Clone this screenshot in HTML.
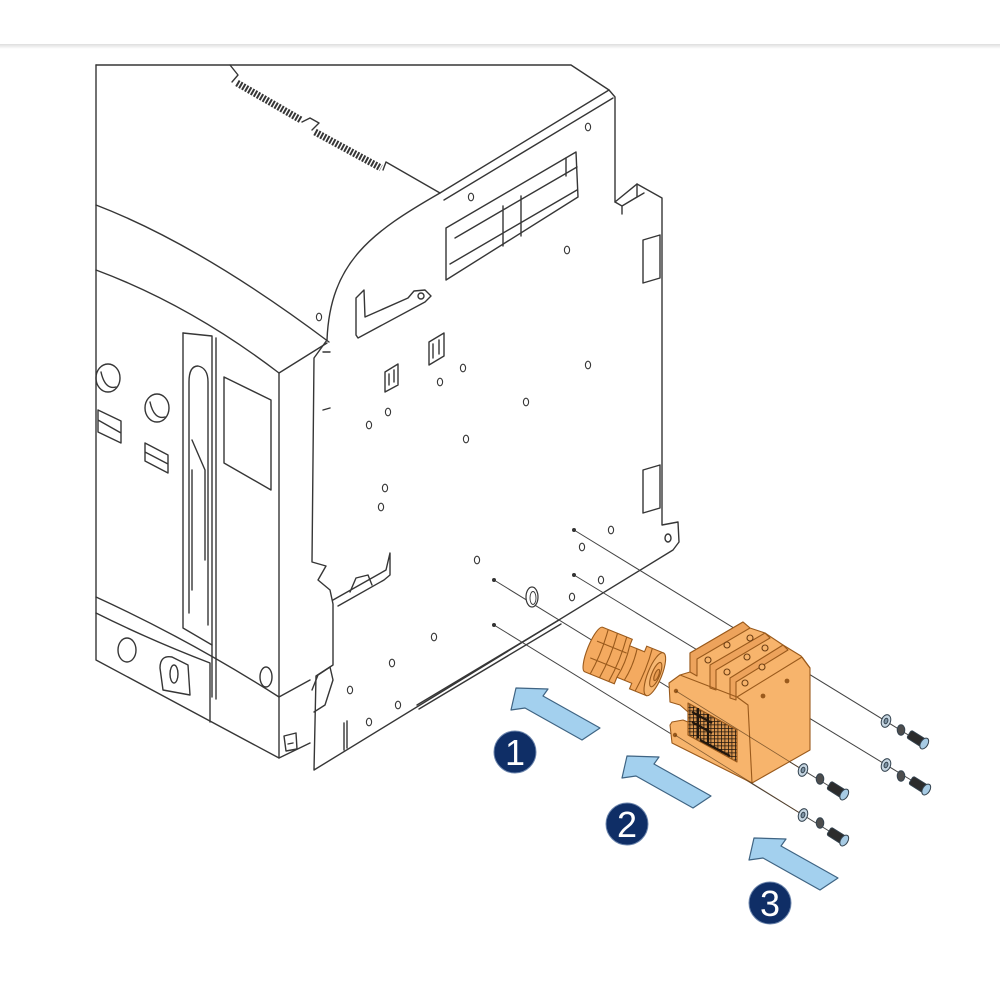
<!DOCTYPE html>
<html><head><meta charset="utf-8"><style>
html,body{margin:0;padding:0;background:#fff;}
svg{display:block;}
</style></head><body>
<svg width="1000" height="1000" viewBox="0 0 1000 1000" xmlns="http://www.w3.org/2000/svg">
<defs>
<linearGradient id="hd" x1="0" y1="0" x2="0" y2="1">
<stop offset="0" stop-color="#dedede"/><stop offset="1" stop-color="#ffffff"/>
</linearGradient>
<pattern id="grd" width="3.5" height="3.5" patternUnits="userSpaceOnUse">
<rect width="3.5" height="3.5" fill="#d99650"/>
<path d="M0,0 L3.5,0 M0,0 L0,3.5" stroke="#22170d" stroke-width="1.6"/>
</pattern>
</defs>
<rect width="1000" height="1000" fill="#fff"/>
<rect x="0" y="44" width="1000" height="5" fill="url(#hd)"/>

<!-- main line drawing -->
<g fill="none" stroke="#363636" stroke-width="1.4" stroke-linejoin="round" stroke-linecap="round">
<!-- box -->
<path d="M96,65 L571,65 L609,90"/>
<path d="M96,65 L96,660 L279,758 L310,743"/>
<path d="M96,205 Q200,245 329,342"/>
<path d="M96,270 Q190,305 279,373 L327,343"/>
<path d="M279,373 L279,758"/>
<path d="M183,333 L183,628 L212,645"/>
<path d="M183,333 L212,336 L212,697"/>
<path d="M216,338 L216,699"/>
<path d="M189,613 L189,382 Q189,366 198,366 Q208,368 208,382 L208,625"/>
<path d="M192,440 L205,470 L205,560 M192,470 L192,590"/>
<path d="M224,377 L271,400 L271,490 L224,463 Z"/>
<ellipse cx="108" cy="378" rx="12" ry="14"/>
<path d="M101,372 Q105,390 116,387"/>
<ellipse cx="157" cy="408" rx="12" ry="14"/>
<path d="M150,402 Q154,420 165,417"/>
<path d="M98,410 L121,421 L121,443 L98,432 Z M98,420 L121,433"/>
<path d="M145,443 L168,455 L168,473 L145,461 Z M145,452 L168,464"/>
<path d="M96,597 Q190,640 279,697 L310,680"/>
<path d="M96,613 Q150,640 210,663 L210,722"/>
<ellipse cx="127" cy="650" rx="9" ry="12"/>
<path d="M160,668 Q160,655 172,657 L188,665 L190,695 L163,690 Z"/>
<ellipse cx="174" cy="674" rx="4" ry="9"/>
<ellipse cx="266" cy="677" rx="6" ry="10"/>
<path d="M284,736 L296,733 L297,749 L286,751 Z M288,744 L293,743"/>
<!-- vents -->
<path d="M230,65 L238,75 L232,82"/>
<line x1="237" y1="83" x2="301" y2="120" stroke-width="7" stroke-dasharray="2 1.4" stroke-linecap="butt"/>
<path d="M302,122 L310,118 L319,123 L312,130"/>
<line x1="315" y1="132" x2="381" y2="168" stroke-width="7" stroke-dasharray="2 1.4" stroke-linecap="butt"/>
<path d="M383,170 L386,162 L440,193"/>
<!-- plate -->
<path d="M609,90 L440,193 C372,232 330,262 327,340 L314,358 L312,562 L326,566 L318,580 L330,590 L333,604 L333,665 L316,676 L314,770 L673,550 L679,542 L678,522 L662,525 L662,198 L637,184 L615,202 L615,97 Z"/>
<path d="M613,98 L444,200"/>
<path d="M615,202 L622,206 L644,193 M637,184 L637,197 L622,206 M622,206 L622,214"/>
<path d="M643,240 L660,235 L660,278 L643,283 Z"/>
<path d="M643,470 L660,465 L660,508 L643,513 Z"/>
<ellipse cx="668" cy="538" rx="3" ry="4"/>
<path d="M446,228 L576,152 L578,197 L446,280 Z"/>
<path d="M450,264 L577,190 M455,238 L503,210 L577,167 M503,206 L503,246 M521,196 L521,236 M566,158 L566,176"/>
<path d="M356,335 L356,298 L364,290 L365,317 L408,298 L414,291 L425,290 L431,296 L425,302 L358,338 Z"/>
<ellipse cx="421" cy="296" rx="3" ry="3"/>
<path d="M385,392 L385,372 L398,364 L398,385 Z M389,385 L389,374 M394,382 L394,370"/>
<path d="M429,365 L429,342 L444,333 L444,356 Z M433,358 L433,344 M439,354 L439,340"/>
<path d="M333,600 L386,570 L390,553 L390,575 L384,580 L338,606"/>
<path d="M350,592 L356,578 L368,575 L372,585"/>
<path d="M312,690 L318,675 L330,667 L333,680 L325,705 L314,712"/>
<path d="M417,705 L559,620 M419,709 L561,624"/>
<path d="M344,723 L344,750 M347,721 L347,748"/>
<path d="M323,352 L330,352 M323,410 L330,408"/>
</g>

<!-- holes -->
<g fill="none" stroke="#363636" stroke-width="1.1">
<ellipse cx="588" cy="127" rx="2.6" ry="3.8"/>
<ellipse cx="471" cy="197" rx="2.6" ry="3.8"/>
<ellipse cx="567" cy="250" rx="2.6" ry="3.8"/>
<ellipse cx="319" cy="317" rx="2.6" ry="3.8"/>
<ellipse cx="463" cy="368" rx="2.6" ry="3.8"/>
<ellipse cx="440" cy="382" rx="2.6" ry="3.8"/>
<ellipse cx="588" cy="365" rx="2.6" ry="3.8"/>
<ellipse cx="526" cy="402" rx="2.6" ry="3.8"/>
<ellipse cx="388" cy="412" rx="2.6" ry="3.8"/>
<ellipse cx="369" cy="425" rx="2.6" ry="3.8"/>
<ellipse cx="466" cy="439" rx="2.6" ry="3.8"/>
<ellipse cx="385" cy="488" rx="2.6" ry="3.8"/>
<ellipse cx="381" cy="507" rx="2.6" ry="3.8"/>
<ellipse cx="477" cy="560" rx="2.6" ry="3.8"/>
<ellipse cx="611" cy="530" rx="2.6" ry="3.8"/>
<ellipse cx="582" cy="547" rx="2.6" ry="3.8"/>
<ellipse cx="601" cy="580" rx="2.6" ry="3.8"/>
<ellipse cx="572" cy="597" rx="2.6" ry="3.8"/>
<ellipse cx="434" cy="637" rx="2.6" ry="3.8"/>
<ellipse cx="392" cy="663" rx="2.6" ry="3.8"/>
<ellipse cx="350" cy="690" rx="2.6" ry="3.8"/>
<ellipse cx="398" cy="705" rx="2.6" ry="3.8"/>
<ellipse cx="369" cy="722" rx="2.6" ry="3.8"/>
</g>

<!-- construction lines -->
<g stroke="#444" stroke-width="1" fill="none">
<path d="M574,530 L910,736"/>
<path d="M574,575 L911,780"/>
<path d="M494,580 L829,786"/>
<path d="M494,625 L829,831"/>
</g>
<g fill="#333">
<circle cx="574" cy="530" r="2"/>
<circle cx="574" cy="575" r="2"/>
<circle cx="494" cy="580" r="2"/>
<circle cx="494" cy="625" r="2"/>
</g>
<ellipse cx="532" cy="597" rx="6" ry="10" fill="#fff" stroke="#363636" stroke-width="1.2"/>
<ellipse cx="533" cy="598" rx="3" ry="6.5" fill="none" stroke="#363636" stroke-width="0.9"/>

<!-- orange block -->
<g stroke="#9a5a1c" stroke-width="1.1" stroke-linejoin="round">
<polygon fill="#f7b46c" points="669,683 680,675 690,672 690,653 743,622 750,628 765,633 783,645 801,656 810,668 810,750 752,783 690,752 680,747 672,743 670,725 672,722 683,720 688,722 688,712 680,705 670,702"/>
<polygon fill="#eda35c" points="690,653 743,622 750,628 697,659 697,676 690,672"/>
<polygon fill="#eda35c" points="710,665 765,633 770,638 716,670 716,690 710,688"/>
<polygon fill="#eda35c" points="730,678 783,645 788,650 736,682 736,700 730,698"/>
<path fill="none" d="M680,675 L737,697 L802,657 M737,697 L748,705 L752,783 M802,657 L810,668"/>
<polygon fill="url(#grd)" points="688,703 737,730 737,762 688,735"/>
<path fill="none" stroke="#22170d" stroke-width="2.2" d="M692,712 L712,723 M692,722 L712,733 M700,740 L730,756 M698,708 L698,738 M708,714 L708,744"/>
<g fill="#f7b46c" stroke="#6e3f14">
<circle cx="727" cy="645" r="3"/>
<circle cx="747" cy="657" r="3"/>
<circle cx="765" cy="648" r="3"/>
<circle cx="708" cy="660" r="3"/>
<circle cx="727" cy="672" r="3"/>
<circle cx="745" cy="683" r="3"/>
<circle cx="762" cy="667" r="3"/>
<circle cx="750" cy="638" r="3"/>
</g>
<g fill="#9a5a1c" stroke="none">
<circle cx="763" cy="696" r="2.4"/>
<circle cx="787" cy="681" r="2.4"/>
<circle cx="676" cy="691" r="2.2"/>
<circle cx="675" cy="735" r="2.2"/>
</g>
</g>
<path d="M676,691 L803,770 M675,735 L803,815" stroke="#5a3a1a" stroke-width="0.8" fill="none" opacity="0.7"/>

<!-- spool -->
<g transform="translate(627,663) rotate(22)" stroke="#9a5a1c" stroke-width="1.1" fill="#f4aa60">
<path d="M-36,-24 L-4,-24 L-4,-17 L12,-17 L12,-23 L30,-23 L30,23 L12,23 L12,17 L-4,17 L-4,24 L-36,24 A6,24 0 0 1 -36,-24 Z"/>
<path fill="none" d="M-30,-24 Q-27,0 -30,24 M-20,-24 Q-17,0 -20,24 M-10,-24 Q-7,0 -10,24 M18,-23 Q21,0 18,23 M-36,-9 L-4,-9 M-36,9 L-4,9 M-4,-17 Q-1,0 -4,17 M4,-17 Q7,0 4,17"/>
<ellipse cx="30" cy="0" rx="7" ry="23" fill="#f7b873"/>
<ellipse cx="31" cy="0" rx="4" ry="13"/>
<ellipse cx="32" cy="0" rx="2" ry="6" fill="#e59a50"/>
</g>

<!-- screws -->
<g stroke="#34434f" stroke-width="1">
<g transform="translate(886,721) rotate(20)"><ellipse rx="4.5" ry="6.5" fill="#c6d6e2"/><ellipse rx="1.8" ry="2.8" fill="#7f95a6"/></g>
<g transform="translate(886,765) rotate(20)"><ellipse rx="4.5" ry="6.5" fill="#c6d6e2"/><ellipse rx="1.8" ry="2.8" fill="#7f95a6"/></g>
<g transform="translate(803,770) rotate(20)"><ellipse rx="4.5" ry="6.5" fill="#c6d6e2"/><ellipse rx="1.8" ry="2.8" fill="#7f95a6"/></g>
<g transform="translate(803,815) rotate(20)"><ellipse rx="4.5" ry="6.5" fill="#c6d6e2"/><ellipse rx="1.8" ry="2.8" fill="#7f95a6"/></g>
<g fill="#4d4d4d">
<ellipse cx="901" cy="730" rx="3.8" ry="5.2"/>
<ellipse cx="901" cy="776" rx="3.8" ry="5.2"/>
<ellipse cx="820" cy="779" rx="3.8" ry="5.2"/>
<ellipse cx="820" cy="823" rx="3.8" ry="5.2"/>
</g>
<g transform="translate(909,734) rotate(32)"><rect x="0" y="-4.5" width="17" height="9" rx="2" fill="#2c2c2c"/><ellipse cx="18" rx="3.6" ry="6" fill="#a7cbe4"/></g>
<g transform="translate(911,780) rotate(32)"><rect x="0" y="-4.5" width="17" height="9" rx="2" fill="#2c2c2c"/><ellipse cx="18" rx="3.6" ry="6" fill="#a7cbe4"/></g>
<g transform="translate(829,785) rotate(32)"><rect x="0" y="-4.5" width="17" height="9" rx="2" fill="#2c2c2c"/><ellipse cx="18" rx="3.6" ry="6" fill="#a7cbe4"/></g>
<g transform="translate(829,831) rotate(32)"><rect x="0" y="-4.5" width="17" height="9" rx="2" fill="#2c2c2c"/><ellipse cx="18" rx="3.6" ry="6" fill="#a7cbe4"/></g>
</g>

<!-- arrows -->
<g fill="#a3d0ee" stroke="#3f6483" stroke-width="1.2" stroke-linejoin="round">
<polygon points="516,688 548,689 543,696 600,728 582,740 525,708 511,710"/>
<polygon transform="translate(111,68)" points="516,688 548,689 543,696 600,728 582,740 525,708 511,710"/>
<polygon transform="translate(238,150)" points="516,688 548,689 543,696 600,728 582,740 525,708 511,710"/>
</g>

<!-- numbered circles -->
<g font-family="'Liberation Sans', Arial, sans-serif" font-size="36" fill="#ffffff" text-anchor="middle">
<circle cx="515" cy="752" r="21" fill="#0f2e66" stroke="#6d86ad" stroke-width="1"/>
<text x="515" y="765">1</text>
<circle cx="627" cy="824" r="21" fill="#0f2e66" stroke="#6d86ad" stroke-width="1"/>
<text x="627" y="837">2</text>
<circle cx="770" cy="903" r="21" fill="#0f2e66" stroke="#6d86ad" stroke-width="1"/>
<text x="770" y="916">3</text>
</g>
</svg>
</body></html>
